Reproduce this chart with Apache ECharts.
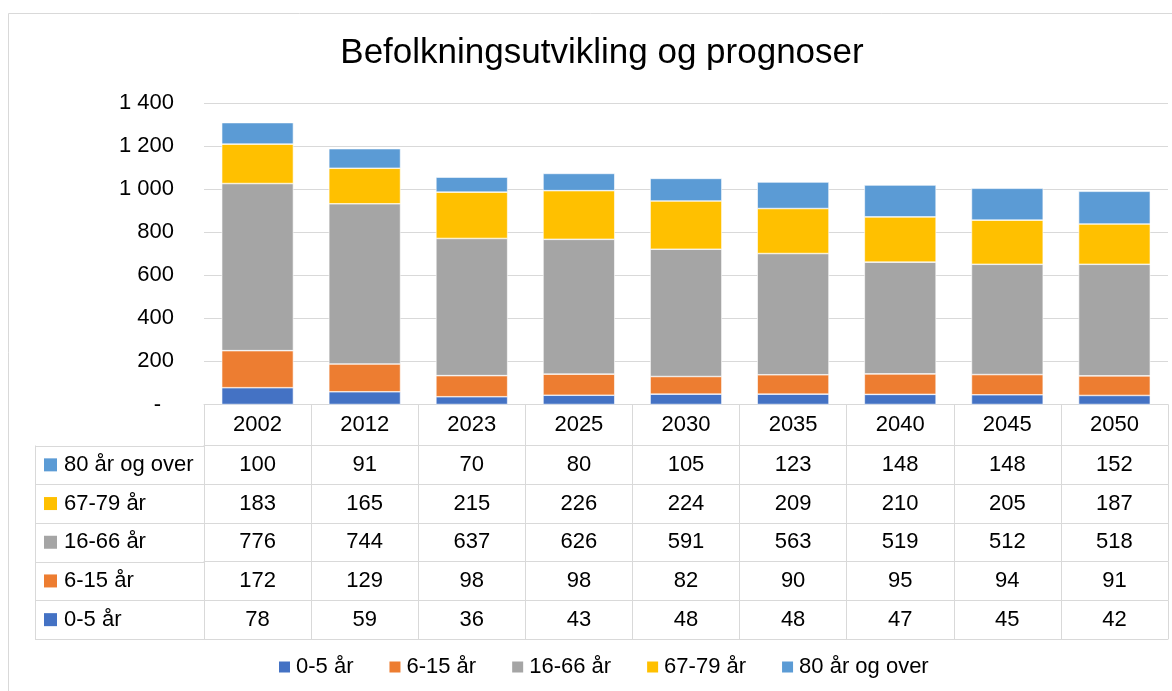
<!DOCTYPE html>
<html>
<head>
<meta charset="utf-8">
<title>Befolkningsutvikling og prognoser</title>
<script src="https://cdn.jsdelivr.net/npm/echarts@6/dist/echarts.min.js"></script>
<style>
html,body{margin:0;padding:0;background:#fff;}
#psBar{width:1172px;height:691px;}
</style>
</head>
<body>
<div id="psBar"></div>
<script>
var years = ['2002','2012','2023','2025','2030','2035','2040','2045','2050'];
var age0to5 = [78,59,36,43,48,48,47,45,42];
var age6to15 = [172,129,98,98,82,90,95,94,91];
var age16to66 = [776,744,637,626,591,563,519,512,518];
var age67to79 = [183,165,215,226,224,209,210,205,187];
var age80plus = [100,91,70,80,105,123,148,148,152];
var seriesNames = ['0-5 år','6-15 år','16-66 år','67-79 år','80 år og over'];
var seriesColors = ['#4472C4','#ED7D31','#A5A5A5','#FFC000','#5B9BD5'];
var yTicks = [0,200,400,600,800,1000,1200,1400];

var FONT = '"Liberation Sans", Arial, sans-serif';
var LINE = '#d9d9d9';
// plot area / table layout (pixels)
var gridLeft = 204, gridRight = 1168, gridTop = 103, gridBottom = 404.5;
var headH = 41, rowH = 38.7, colLeft = 35;

var psBarChart;

window.onload = function(){
	initChartInformation();
	loadChartInternalData();
};

function initChartInformation(){
	psBarChart = echarts.init(document.getElementById('psBar'), null, {renderer:'canvas'});
}

function formatThousand(v){
	if (v === 0) return '{d|-}';
	return String(v).replace(/\B(?=(\d{3})+(?!\d))/g, ' ');
}

//rader i tabellen, øverst først
function _tableRows(){
	var values = [age0to5, age6to15, age16to66, age67to79, age80plus];
	var rows = [];
	for (var i = values.length - 1; i >= 0; i--) {
		rows.push({name: seriesNames[i], color: seriesColors[i], values: values[i]});
	}
	return rows;
}

function _buildSeries(){
	var values = [age0to5, age6to15, age16to66, age67to79, age80plus];
	return values.map(function(arr, i){
		return {
			name: seriesNames[i],
			type: 'bar',
			stack: 'total',
			barCategoryGap: '33%',
			data: arr,
			itemStyle: {color: seriesColors[i], borderColor: '#fff', borderWidth: 0.6}
		};
	});
}

function _buildXAxes(rows){
	var labelBase = {interval: 0, verticalAlign: 'middle', fontSize: 22, color: '#000', fontFamily: FONT};
	var axes = [{
		type: 'category', data: years, position: 'bottom', offset: 0,
		axisLine: {show: true, lineStyle: {color: LINE, width: 1}},
		axisTick: {show: true, length: headH, interval: 0, lineStyle: {color: LINE, width: 1}},
		axisLabel: Object.assign({margin: headH / 2}, labelBase),
		splitLine: {show: false}
	}];
	rows.forEach(function(row, k){
		axes.push({
			type: 'category', data: years, position: 'bottom', offset: headH + k * rowH,
			axisLine: {show: true, lineStyle: {color: LINE, width: 1}},
			axisTick: {show: true, length: rowH, interval: 0, lineStyle: {color: LINE, width: 1}},
			axisLabel: Object.assign({margin: rowH / 2, formatter: function(v, idx){ return String(row.values[idx]); }}, labelBase),
			splitLine: {show: false}
		});
	});
	axes.push({
		type: 'category', data: years, position: 'bottom', offset: headH + rows.length * rowH,
		axisLine: {show: true, lineStyle: {color: LINE, width: 1}},
		axisTick: {show: false}, axisLabel: {show: false}, splitLine: {show: false}
	});
	return axes;
}

function _buildGraphic(rows){
	var els = [{
		type: 'rect', silent: true, z: -10,
		shape: {x: 8.5, y: 13.5, width: 1200, height: 700},
		style: {fill: null, stroke: LINE, lineWidth: 1}
	}];
	var top = gridBottom + headH;
	var bottom = top + rows.length * rowH;
	els.push({type: 'line', silent: true, shape: {x1: colLeft + 0.5, y1: top, x2: colLeft + 0.5, y2: bottom}, style: {stroke: LINE, lineWidth: 1}});
	for (var k = 0; k <= rows.length; k++) {
		var y = Math.round(top + k * rowH) + 0.5;
		els.push({type: 'line', silent: true, shape: {x1: colLeft, y1: y, x2: gridLeft, y2: y}, style: {stroke: LINE, lineWidth: 1}});
	}
	rows.forEach(function(row, k){
		var cy = top + k * rowH + rowH / 2;
		els.push({type: 'rect', silent: true, shape: {x: 44, y: cy - 6.5, width: 13, height: 13}, style: {fill: row.color}});
		els.push({type: 'text', silent: true, x: 64, y: cy, style: {text: row.name, fontSize: 22, fontFamily: FONT, fill: '#000', verticalAlign: 'middle', align: 'left'}});
	});
	return els;
}

//laster data inn i diagrammet
function loadChartInternalData(){
	var rows = _tableRows();
	var option = {
		animation: false,
		backgroundColor: '#fff',
		title: {
			text: 'Befolkningsutvikling og prognoser',
			left: 597, top: 31, textAlign: 'center',
			textStyle: {fontSize: 35, fontWeight: 'normal', color: '#000', fontFamily: FONT}
		},
		legend: {
			data: seriesNames,
			left: 277, top: 656, padding: 0,
			icon: 'rect', itemWidth: 13, itemHeight: 13, itemGap: 34,
			textStyle: {fontSize: 22, color: '#000', fontFamily: FONT}
		},
		grid: {
			left: gridLeft, right: 1172 - gridRight, top: gridTop, bottom: 691 - gridBottom,
			containLabel: false, outerBoundsMode: 'none'
		},
		xAxis: _buildXAxes(rows),
		yAxis: {
			type: 'value',
			min: yTicks[0], max: yTicks[yTicks.length - 1], interval: yTicks[1] - yTicks[0],
			axisLine: {show: false}, axisTick: {show: false},
			splitLine: {lineStyle: {color: LINE, width: 1}},
			axisLabel: {
				margin: 30, fontSize: 22, color: '#000', fontFamily: FONT,
				formatter: formatThousand,
				rich: {d: {fontSize: 22, color: '#000', fontFamily: FONT, padding: [0, 13, 0, 0]}}
			}
		},
		graphic: _buildGraphic(rows),
		series: _buildSeries()
	};
	psBarChart.setOption(option, true);
}
</script>
</body>
</html>
